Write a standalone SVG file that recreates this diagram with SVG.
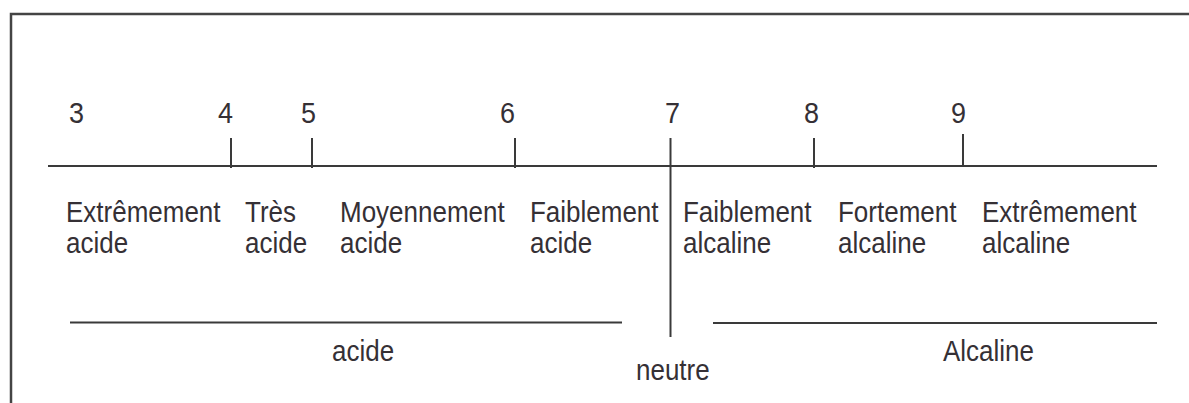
<svg xmlns="http://www.w3.org/2000/svg" width="1189" height="403" viewBox="0 0 1189 403">
<style>
.t{font-family:"Liberation Sans",Arial,sans-serif;font-size:26px;fill:#353035}
.n{font-family:"Liberation Sans",Arial,sans-serif;font-size:27px;fill:#353035}
.l{stroke:#3a3a3a;stroke-width:2;fill:none}
</style>
<rect width="1189" height="403" fill="#ffffff"/>
<rect id="frame" x="11" y="14" width="1200" height="420" fill="none" stroke="#444" stroke-width="2.5"/>
<g id="connectors">
<line class="l" x1="48" y1="166" x2="1157" y2="166"/>
<line class="l" x1="231" y1="138" x2="231" y2="168"/>
<line class="l" x1="312" y1="138" x2="312" y2="168"/>
<line class="l" x1="515" y1="138" x2="515" y2="168"/>
<line class="l" x1="670.5" y1="138" x2="670.5" y2="337"/>
<line class="l" x1="814" y1="138" x2="814" y2="168"/>
<line class="l" x1="963" y1="134" x2="963" y2="166"/>
<line class="l" x1="70" y1="322.5" x2="622" y2="322.5"/>
<line class="l" x1="713" y1="323" x2="1157" y2="323"/>
</g>
<g id="numbers">
<text class="n" transform="translate(69,123) scale(1,1.12)">3</text>
<text class="n" transform="translate(218,123) scale(1,1.12)">4</text>
<text class="n" transform="translate(301,123) scale(1,1.12)">5</text>
<text class="n" transform="translate(500,123) scale(1,1.12)">6</text>
<text class="n" transform="translate(665,123) scale(1,1.12)">7</text>
<text class="n" transform="translate(804,123) scale(1,1.12)">8</text>
<text class="n" transform="translate(951,123) scale(1,1.12)">9</text>
</g>
<g id="extremement-acide">
<text class="t" transform="translate(66,222) scale(1,1.15)">Extrêmement</text>
<text class="t" transform="translate(66,253) scale(1,1.15)">acide</text>
</g>
<g id="tres-acide">
<text class="t" transform="translate(245,222) scale(1,1.15)">Très</text>
<text class="t" transform="translate(245,253) scale(1,1.15)">acide</text>
</g>
<g id="moyennement-acide">
<text class="t" transform="translate(340,222) scale(1,1.15)">Moyennement</text>
<text class="t" transform="translate(340,253) scale(1,1.15)">acide</text>
</g>
<g id="faiblement-acide">
<text class="t" transform="translate(530,222) scale(1,1.15)">Faiblement</text>
<text class="t" transform="translate(530,253) scale(1,1.15)">acide</text>
</g>
<g id="faiblement-alcaline">
<text class="t" transform="translate(683,222) scale(1,1.15)">Faiblement</text>
<text class="t" transform="translate(683,253) scale(1,1.15)">alcaline</text>
</g>
<g id="fortement-alcaline">
<text class="t" transform="translate(838,222) scale(1,1.15)">Fortement</text>
<text class="t" transform="translate(838,253) scale(1,1.15)">alcaline</text>
</g>
<g id="extremement-alcaline">
<text class="t" transform="translate(982,222) scale(1,1.15)">Extrêmement</text>
<text class="t" transform="translate(982,253) scale(1,1.15)">alcaline</text>
</g>
<g id="acide">
<text class="t" transform="translate(332,361) scale(1,1.15)">acide</text>
</g>
<g id="neutre">
<text class="t" transform="translate(636,380) scale(1,1.15)">neutre</text>
</g>
<g id="alcaline">
<text class="t" transform="translate(943,361) scale(1,1.15)">Alcaline</text>
</g>
</svg>
